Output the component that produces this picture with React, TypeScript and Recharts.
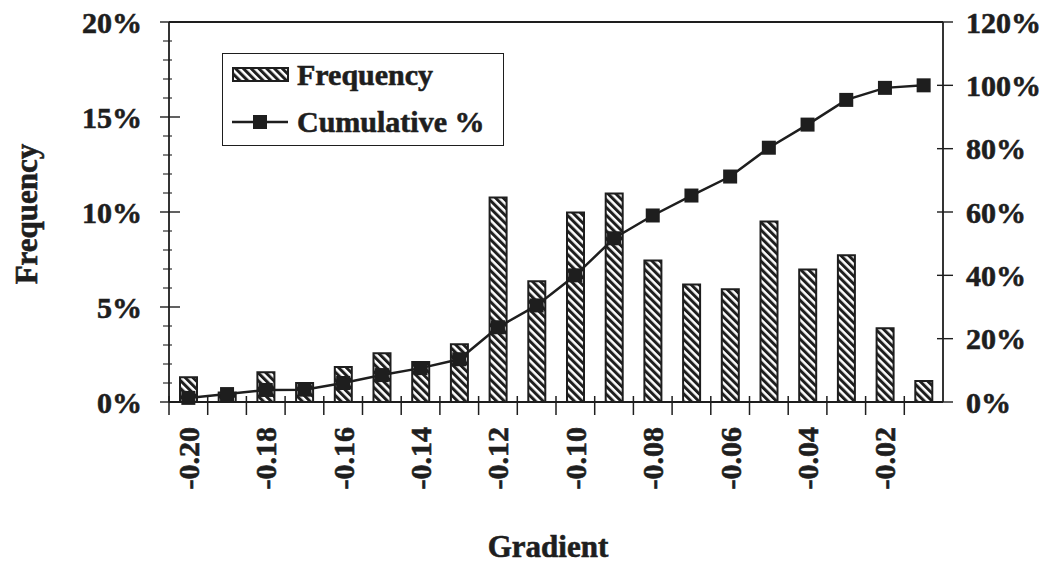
import React from 'react';
import {
  ComposedChart,
  Bar,
  Line,
  XAxis,
  YAxis,
  Legend,
  ReferenceLine,
} from 'recharts';

// gradient bins, one bar each
const categories = [
  '-0.20', '-0.19', '-0.18', '-0.17', '-0.16', '-0.15', '-0.14', '-0.13', '-0.12', '-0.11',
  '-0.10', '-0.09', '-0.08', '-0.07', '-0.06', '-0.05', '-0.04', '-0.03', '-0.02', '-0.01',
];
// frequency in %
const frequency = [
  1.3, 0.5, 1.57, 1.0, 1.84, 2.57, 2.1, 3.04, 10.76, 6.35,
  9.97, 10.97, 7.45, 6.19, 5.93, 9.5, 6.98, 7.72, 3.88, 1.1,
];
// cumulative in %
const cumulative = [
  1.3, 2.5, 3.8, 3.9, 6.0, 8.5, 10.7, 13.5, 23.6, 30.5,
  40, 51.7, 58.9, 65.2, 71.2, 80.3, 87.6, 95.4, 99.2, 100,
];
const xTickLabels = ['-0.20', '-0.18', '-0.16', '-0.14', '-0.12', '-0.10', '-0.08', '-0.06', '-0.04', '-0.02'];
const leftTicks = [0, 1, 2, 3, 4, 5, 6, 7, 8, 9, 10, 11, 12, 13, 14, 15, 16, 17, 18, 19, 20];
const rightTicks = [0, 20, 40, 60, 80, 100, 120];

const data = categories.map((c, i) => ({ bin: c, freq: frequency[i], cum: cumulative[i] }));

const INK = '#1e1e1e';
const FONT = '"Liberation Serif", "Times New Roman", serif';
// scanned print looks a bit heavier than plain bold
const heavy = { stroke: INK, strokeWidth: 0.6 };

const XTick = (props: any) => {
  const { x, y, payload } = props;
  const half = payload && payload.offset ? payload.offset : 19.35;
  const show = xTickLabels.includes(payload.value);
  return (
    <g>
      <line x1={x - half} x2={x - half} y1={y - 6} y2={y + 13} stroke={INK} strokeWidth={1.5} />
      {show && (
        <text
          x={x}
          y={y + 25}
          transform={`rotate(-90, ${x}, ${y + 25})`}
          textAnchor="end"
          dominantBaseline="central"
          fontFamily={FONT}
          fontWeight="bold"
          fontSize={30}
          fill={INK}
          {...heavy}
        >
          {payload.value}
        </text>
      )}
    </g>
  );
};

const LeftTick = (props: any) => {
  const { x, y, payload } = props;
  const major = payload.value % 5 === 0;
  return (
    <g>
      {major ? (
        <line x1={x - 9} x2={x + 11} y1={y} y2={y} stroke={INK} strokeWidth={1.4} />
      ) : (
        <line x1={x - 6} x2={x + 3} y1={y} y2={y} stroke={INK} strokeWidth={1.1} />
      )}
      {major && (
        <text x={x - 27} y={y} textAnchor="end" dominantBaseline="central" fontFamily={FONT} fontWeight="bold" fontSize={30} fill={INK} {...heavy}>
          {`${payload.value}%`}
        </text>
      )}
    </g>
  );
};

const RightTick = (props: any) => {
  const { x, y, payload } = props;
  return (
    <g>
      <line x1={x - 6} x2={x + 10} y1={y} y2={y} stroke={INK} strokeWidth={1.4} />
      <text x={x + 23} y={y} textAnchor="start" dominantBaseline="central" fontFamily={FONT} fontWeight="bold" fontSize={30} fill={INK} {...heavy}>
        {`${payload.value}%`}
      </text>
    </g>
  );
};

const SquareDot = (props: any) => {
  const { cx, cy } = props;
  if (cx == null || cy == null) return null;
  return <rect x={cx - 7} y={cy - 7} width={14} height={14} fill={INK} />;
};

const LegendBox = () => (
  <div
    style={{
      position: 'relative',
      width: 282,
      height: 93,
      border: `1.5px solid ${INK}`,
      boxSizing: 'border-box',
      background: '#fff',
      fontFamily: FONT,
      fontWeight: 'bold',
      fontSize: 30,
      color: INK,
      WebkitTextStroke: `0.6px ${INK}`,
    }}
  >
    <svg width={58} height={16} style={{ position: 'absolute', left: 9, top: 13 }}>
      <defs>
        <pattern id="hatchLegend" width={5.5} height={5.5} patternUnits="userSpaceOnUse" patternTransform="rotate(-45)">
          <rect width={3} height={5.5} fill={INK} />
        </pattern>
      </defs>
      <rect x={1} y={1} width={55} height={13} fill="url(#hatchLegend)" stroke={INK} strokeWidth={2} />
    </svg>
    <div style={{ position: 'absolute', left: 74, top: 1, lineHeight: '40px' }}>Frequency</div>
    <svg width={58} height={16} style={{ position: 'absolute', left: 9, top: 60 }}>
      <line x1={0} x2={56} y1={8} y2={8} stroke={INK} strokeWidth={2.5} />
      <rect x={21} y={1} width={14} height={14} fill={INK} />
    </svg>
    <div style={{ position: 'absolute', left: 74, top: 48, lineHeight: '40px' }}>Cumulative %</div>
  </div>
);

const App: React.FC = () => {
  return (
    <div style={{ position: 'absolute', left: 0, top: 0, background: '#fff' }}>
      <ComposedChart width={1054} height={564} data={data} margin={{ top: 22, right: 0, left: 0, bottom: 0 }} barSize={17}>
        <defs>
          <pattern id="hatch" width={5.5} height={5.5} patternUnits="userSpaceOnUse" patternTransform="rotate(-45)">
            <rect width={3} height={5.5} fill={INK} />
          </pattern>
        </defs>
        <XAxis
          dataKey="bin"
          interval={0}
          height={162}
          tickSize={0}
          tickMargin={0}
          tickLine={false}
          axisLine={{ stroke: INK, strokeWidth: 1.8 }}
          tick={<XTick />}
          label={{
            content: (p: any) => {
              const vb = p.viewBox;
              return (
                <text x={vb.x + vb.width / 2 - 8} y={557} textAnchor="middle" fontFamily={FONT} fontWeight="bold" fontSize={31} fill={INK} {...heavy}>
                  Gradient
                </text>
              );
            },
          }}
        />
        <YAxis
          yAxisId="left"
          orientation="left"
          width={169}
          domain={[0, 20]}
          ticks={leftTicks}
          interval={0}
          tickSize={0}
          tickMargin={0}
          tickLine={false}
          axisLine={{ stroke: INK, strokeWidth: 1.8 }}
          tick={<LeftTick />}
          label={{
            content: (p: any) => {
              const vb = p.viewBox;
              const cy = vb.y + vb.height / 2 + 2;
              return (
                <text x={26} y={cy} transform={`rotate(-90, 26, ${cy})`} textAnchor="middle" dominantBaseline="central" fontFamily={FONT} fontWeight="bold" fontSize={31} fill={INK} {...heavy}>
                  Frequency
                </text>
              );
            },
          }}
        />
        <YAxis
          yAxisId="right"
          orientation="right"
          width={111}
          domain={[0, 120]}
          ticks={rightTicks}
          interval={0}
          tickSize={0}
          tickMargin={0}
          tickLine={false}
          axisLine={{ stroke: INK, strokeWidth: 1.8 }}
          tick={<RightTick />}
        />
        <ReferenceLine yAxisId="left" y={20} stroke={INK} strokeWidth={1.8} />
        <Legend
          layout="vertical"
          align="center"
          verticalAlign="middle"
          wrapperStyle={{ left: 222, top: 53, width: 282, height: 93 }}
          content={<LegendBox />}
        />
        <Bar
          yAxisId="left"
          dataKey="freq"
          name="Frequency"
          fill="url(#hatch)"
          stroke={INK}
          strokeWidth={2}
          isAnimationActive={false}
        />
        <Line
          yAxisId="right"
          dataKey="cum"
          name="Cumulative %"
          type="linear"
          stroke={INK}
          strokeWidth={2.5}
          dot={<SquareDot />}
          activeDot={false}
          isAnimationActive={false}
        />
      </ComposedChart>
    </div>
  );
};

export default App;
